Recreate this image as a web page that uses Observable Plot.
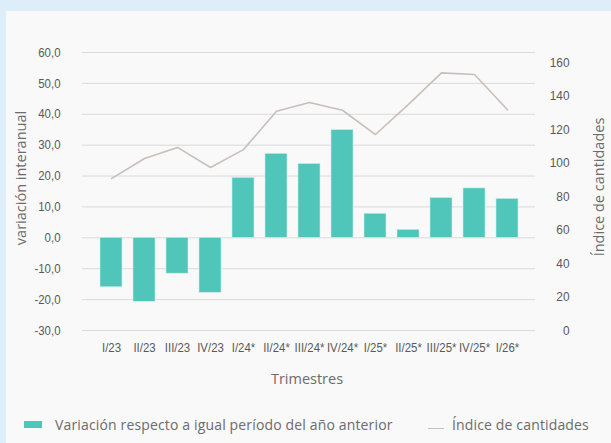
<!DOCTYPE html>
<html>
<head>
<meta charset="utf-8">
<script src="https://cdn.jsdelivr.net/npm/d3@7"></script>
<script src="https://cdn.jsdelivr.net/npm/@observablehq/plot@0.6"></script>
<style>
  html, body { margin: 0; padding: 0; }
  body { width: 611px; height: 443px; background: #ddeef8; position: relative; overflow: hidden; }
  #panel { position: absolute; left: 6px; top: 11px; width: 605px; height: 432px; background: #f9f9f9; }
  #chart { position: absolute; left: 0; top: 0; }
  .title { position: absolute; font-family: "Open Sans", sans-serif; color: #6b6b6b; font-size: 14.5px; white-space: nowrap; }
  .legend { position: absolute; top: 415px; font-family: "Open Sans", sans-serif; color: #6b6b6b; font-size: 14px; letter-spacing: 0.15px; white-space: nowrap; display: flex; align-items: center; }
</style>
</head>
<body>
<div id="panel"></div>
<div id="chart"></div>
<div class="title" style="left:20px; top:178px; transform: translate(-50%,-50%) rotate(-90deg);">variación interanual</div>
<div class="title" style="left:598px; top:187px; transform: translate(-50%,-50%) rotate(-90deg);">Índice de cantidades</div>
<div class="title" style="left:307px; top:378px; transform: translate(-50%,-50%);">Trimestres</div>
<div class="legend" style="left:24px;"><span style="display:inline-block;width:18px;height:7px;background:#50c5ba;margin-right:13px;"></span>Variación respecto a igual período del año anterior</div>
<div class="legend" style="left:428px;"><span style="display:inline-block;width:16px;height:1.5px;background:#c9bfba;margin-right:8px;margin-top:8px;"></span>Índice de cantidades</div>
<script>
const quarters = ["I/23","II/23","III/23","IV/23","I/24*","II/24*","III/24*","IV/24*","I/25*","II/25*","III/25*","IV/25*","I/26*"];
const variacion = [-16.0,-20.7,-11.6,-17.8,19.4,27.2,23.9,34.9,7.8,2.6,12.9,16.0,12.6];
const indice = [90.7,102.7,109.3,97.3,108.0,130.9,136.1,131.5,117.0,135.0,153.8,152.8,131.8];
const leftTicks = [-30,-20,-10,0,10,20,30,40,50,60];
const rightTicks = [0,20,40,60,80,100,120,140,160];

// secondary axis 0..160 mapped onto the primary axis -30..56.8
const toLeft = v => -30 + v * (86.76 / 160);
const fromLeft = y => (y + 30) * (160 / 86.76);

const data = quarters.map((q, i) => ({q, v: variacion[i], idx: indice[i]}));
const tickFont = `"Liberation Sans", Arial, sans-serif`;

const chart = Plot.plot({
  width: 611,
  height: 400,
  marginTop: 52,
  marginBottom: 70,
  marginLeft: 82,
  marginRight: 76,
  style: {background: "transparent", fontFamily: tickFont, fontSize: "13px", color: "#595959"},
  x: {domain: quarters, padding: 0.34, label: null},
  y: {domain: [-30, 60], label: null},
  marks: [
    Plot.gridY(leftTicks, {stroke: "#dadada", strokeOpacity: 1, strokeWidth: 1}),
    Plot.barY(data, {x: "q", y: "v", fill: "#50c5ba", stroke: "#c9eee9", strokeWidth: 0.6}),
    Plot.line(data, {x: "q", y: d => toLeft(d.idx), stroke: "#c9bfba", strokeWidth: 1.6}),
    Plot.axisY(leftTicks, {anchor: "left", tickSize: 0, tickPadding: 22, tickFormat: d => d.toFixed(1).replace(".", ","), label: null, fill: "#595959"}),
    Plot.axisY(rightTicks.map(toLeft), {anchor: "right", tickSize: 0, tickPadding: 34, textAnchor: "end", tickFormat: d => String(Math.round(fromLeft(d))), label: null, fill: "#595959", fontSize: 13.5}),
    Plot.axisX({tickSize: 0, tickPadding: 12, label: null, fill: "#595959"})
  ]
});

// condense tick labels horizontally (narrow typeface look); only extend the positioning transform
d3.select(chart).selectAll("g[aria-label$='tick label'] text").each(function() {
  const t = this.getAttribute("transform");
  if (t && t.includes("translate")) this.setAttribute("transform", t + " scale(0.88,1)");
});

document.getElementById("chart").appendChild(chart);
</script>
</body>
</html>
